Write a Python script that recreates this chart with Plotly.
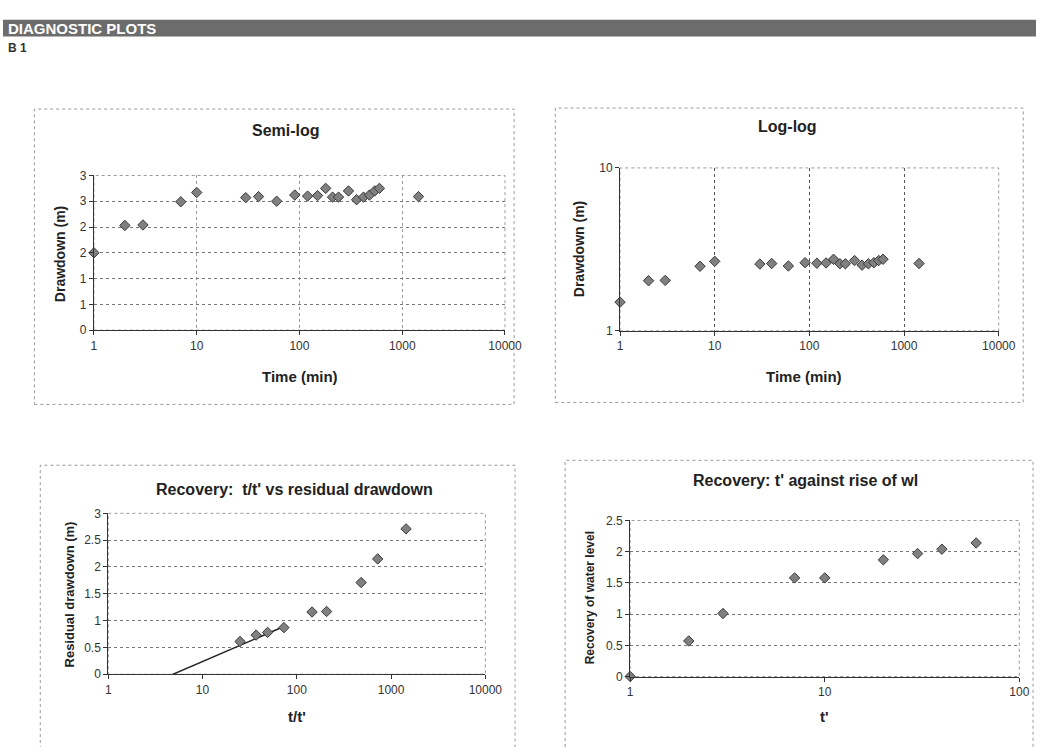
import plotly.graph_objects as go

W, H = 1053, 747

# ---------------- data ----------------
time_min = [1, 2, 3, 7, 10, 30, 40, 60, 90, 120, 150, 180, 210, 240, 300, 360, 420, 480, 540, 600, 1440]
drawdown_m = [1.50, 2.03, 2.04, 2.49, 2.67, 2.57, 2.59, 2.50, 2.62, 2.60, 2.61, 2.75, 2.58, 2.58,
              2.70, 2.53, 2.58, 2.62, 2.70, 2.75, 2.59]

t_over_tprime = [25, 37, 49, 73, 145, 207, 481, 721, 1441]
residual_dd_m = [0.61, 0.73, 0.78, 0.87, 1.16, 1.17, 1.71, 2.15, 2.71]
trend_x = [3.7, 75]
trend_y = [-0.09, 0.90]

t_prime = [1, 2, 3, 7, 10, 20, 30, 40, 60]
rise_wl_m = [0, 0.57, 1.01, 1.58, 1.58, 1.87, 1.97, 2.04, 2.14]

log_ticks_4 = [1, 10, 100, 1000, 10000]
log_labels_4 = ["1", "10", "100", "1000", "10000"]
log_ticks_2 = [1, 10, 100]
log_labels_2 = ["1", "10", "100"]
semilog_yticks = [0, 0.5, 1, 1.5, 2, 2.5, 3]
semilog_ylabels = ["0", "1", "1", "2", "2", "3", "3"]
loglog_yticks = [1, 10]
loglog_ylabels = ["1", "10"]
res_yticks = [0, 0.5, 1, 1.5, 2, 2.5, 3]
res_ylabels = ["0", "0.5", "1", "1.5", "2", "2.5", "3"]
rec_yticks = [0, 0.5, 1, 1.5, 2, 2.5]
rec_ylabels = ["0", "0.5", "1", "1.5", "2", "2.5"]

# ---------------- helpers ----------------
FONT = "Liberation Sans, Arial, sans-serif"
def px(x): return x / W
def py(y): return 1 - y / H
def dom(x0, x1, y0, y1): return [px(x0), px(x1)], [py(y1), py(y0)]

marker = dict(symbol="diamond", size=8, color="#808080", line=dict(color="#3a3a3a", width=1))

fig = go.Figure()

fig.add_trace(go.Scatter(x=time_min, y=drawdown_m, mode="markers", marker=marker,
                         xaxis="x", yaxis="y", cliponaxis=False, showlegend=False))
fig.add_trace(go.Scatter(x=time_min, y=drawdown_m, mode="markers", marker=marker,
                         xaxis="x2", yaxis="y2", cliponaxis=False, showlegend=False))
fig.add_trace(go.Scatter(x=trend_x, y=trend_y, mode="lines", line=dict(color="#222", width=1.5),
                         xaxis="x3", yaxis="y3", showlegend=False))
fig.add_trace(go.Scatter(x=t_over_tprime, y=residual_dd_m, mode="markers", marker=marker,
                         xaxis="x3", yaxis="y3", cliponaxis=False, showlegend=False))
fig.add_trace(go.Scatter(x=t_prime, y=rise_wl_m, mode="markers", marker=marker,
                         xaxis="x4", yaxis="y4", cliponaxis=False, showlegend=False))

tickfont = dict(family=FONT, size=12, color="#333")
base_axis = dict(showline=True, linecolor="#333", linewidth=1, ticks="outside", ticklen=4,
                 tickcolor="#333", tickfont=tickfont, zeroline=False)

d1x, d1y = dom(92.7, 511.7, 171.7, 329.3)
d2x, d2y = dom(629, 1015, 164, 330)
d3x, d3y = dom(107.3, 491.7, 516, 680)
d4x, d4y = dom(639.3, 1036, 523.3, 682.3)

grid_h = dict(showgrid=True, gridcolor="#777", griddash="dot", gridwidth=1)

fig.update_layout(
    width=W, height=H, autosize=False,
    margin=dict(l=0, r=0, t=0, b=0),
    paper_bgcolor="white", plot_bgcolor="white",
    font=dict(family=FONT, color="#333"),
    xaxis=dict(base_axis, type="log", domain=d1x, range=[0, 4], tickvals=log_ticks_4, ticktext=log_labels_4,
               anchor="y", showgrid=True, gridcolor="#999", griddash="dot"),
    yaxis=dict(base_axis, domain=d1y, range=[0, 3], tickvals=semilog_yticks, ticktext=semilog_ylabels,
               anchor="x", **grid_h),
    xaxis2=dict(base_axis, type="log", domain=d2x, range=[0, 4], tickvals=log_ticks_4, ticktext=log_labels_4,
                anchor="y2", showgrid=True, gridcolor="#555", griddash="3px,3px"),
    yaxis2=dict(base_axis, type="log", domain=d2y, range=[0, 1], tickvals=loglog_yticks, ticktext=loglog_ylabels,
                anchor="x2", showgrid=False),
    xaxis3=dict(base_axis, type="log", domain=d3x, range=[0, 4], tickvals=log_ticks_4, ticktext=log_labels_4,
                anchor="y3", showgrid=False),
    yaxis3=dict(base_axis, domain=d3y, range=[0, 3], tickvals=res_yticks, ticktext=res_ylabels,
                anchor="x3", **grid_h),
    xaxis4=dict(base_axis, type="log", domain=d4x, range=[0, 2], tickvals=log_ticks_2, ticktext=log_labels_2,
                anchor="y4", showgrid=False),
    yaxis4=dict(base_axis, domain=d4y, range=[0, 2.5], tickvals=rec_yticks, ticktext=rec_ylabels,
                anchor="x4", **grid_h),
)

shapes = []
shapes.append(dict(type="rect", xref="paper", yref="paper", x0=0, x1=1, y0=py(30), y1=py(13),
                   fillcolor="#6c6c6c", line=dict(width=0), layer="below"))
for (x0, x1, y0, y1) in [(32, 521, 104, 405), (563, 1040, 103, 403), (38, 522, 467, 760), (573, 1050, 462, 760)]:
    shapes.append(dict(type="rect", xref="paper", yref="paper", x0=px(x0), x1=px(x1), y0=py(y1), y1=py(y0),
                       line=dict(color="#999", width=1, dash="dot"), layer="below"))
for i in ["", "2", "3", "4"]:
    shapes.append(dict(type="rect", xref=f"x{i} domain", yref=f"y{i} domain", x0=0, x1=1, y0=0, y1=1,
                       line=dict(color="#999", width=1, dash="dot"), layer="below"))
fig.update_layout(shapes=shapes)

ann = []
def text(x, y, s, size, bold=True, color="#222", angle=0, xanchor="center"):
    ann.append(dict(x=px(x), y=py(y), xref="paper", yref="paper", text=(f"<b>{s}</b>" if bold else s),
                    showarrow=False, textangle=angle, xanchor=xanchor, yanchor="middle",
                    font=dict(family=FONT, size=size, color=color)))

text(3, 22, "DIAGNOSTIC PLOTS", 15, color="white", xanchor="left")
text(3, 42, "B 1", 12, color="#333", xanchor="left")

text(288, 126, "Semi-log", 16)
text(800, 122, "Log-log", 16)
text(297, 492, "Recovery:  t/t' vs residual drawdown", 16)
text(818, 483, "Recovery: t' against rise of wl", 16)

text(303, 377, "Time (min)", 15)
text(817, 377, "Time (min)", 15)
text(300, 723, "t/t'", 15)
text(837, 723, "t'", 15)

text(58, 252, "Drawdown (m)", 14, angle=-90)
text(588, 247, "Drawdown (m)", 14, angle=-90)
text(68, 599, "Residual drawdown (m)", 13, angle=-90)
text(598, 602, "Recovery of water level", 12, angle=-90)

fig.update_layout(annotations=ann)

post = ("document.documentElement.style.overflow='hidden';"
        "document.body.style.margin='0px';document.body.style.overflow='hidden';"
        "var g=document.getElementById('{plot_id}');"
        "g.style.position='fixed';g.style.left='0px';g.style.top='0px';")
fig.write_html("out.html", config={"displayModeBar": False}, post_script=post)
